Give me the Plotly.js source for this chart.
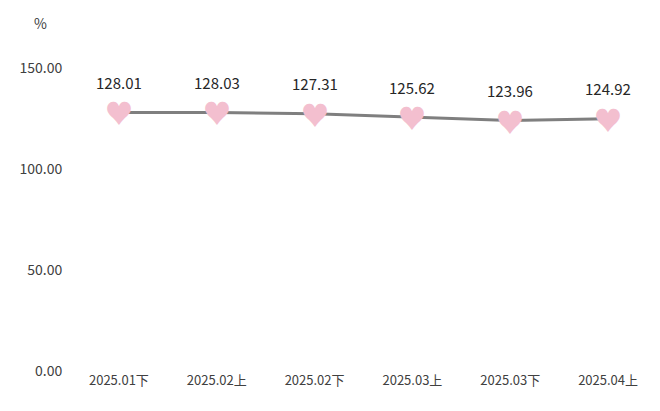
<!DOCTYPE html>
<html><head><meta charset="utf-8">
<script src="https://cdn.plot.ly/plotly-3.0.1.min.js"></script>
<style>html,body{margin:0;padding:0;background:#fff}#c{width:660px;height:411px}</style>
</head><body><div id="c"></div>
<script>
const categories = ['2025.01下','2025.02上','2025.02下','2025.03上','2025.03下','2025.04上'];
const values = [128.01, 128.03, 127.31, 125.62, 123.96, 124.92];
const yTicks = [0, 50, 100, 150];
const yTickLabels = ['0.00','50.00','100.00','150.00'];

const font = "'Noto Sans CJK SC', 'Noto Sans', sans-serif";
const traces = [
  {x: categories, y: values, type: 'scatter', mode: 'lines', line: {color: '#7f7f7f', width: 3}, hoverinfo: 'skip', cliponaxis: false}
];
const heartAnns = categories.map((c, i) => ({x: c, y: values[i], xref: 'x', yref: 'y', text: '♥', showarrow: false,
  font: {family: "'Noto Sans CJK SC'", size: 28, color: '#f3bfcf'}, xanchor: 'center', yanchor: 'middle', yshift: 0}));
const labelAnns = categories.map((c, i) => ({x: c, y: values[i], xref: 'x', yref: 'y', text: values[i].toFixed(2), showarrow: false,
  font: {family: font, size: 15, color: '#262626'}, xanchor: 'center', yanchor: 'middle', yshift: 30}));
const layout = {
  width: 660, height: 411,
  margin: {l: 70, r: 3, t: 68, b: 40},
  paper_bgcolor: '#fff', plot_bgcolor: '#fff',
  showlegend: false,
  font: {family: font, size: 13, color: '#404040'},
  xaxis: {type: 'category', range: [-0.5, 5.5], showgrid: false, zeroline: false, showline: false,
          ticks: '', tickfont: {size: 13, color: '#404040'}, fixedrange: true},
  yaxis: {range: [0, 150], tickvals: yTicks, ticktext: yTickLabels, showgrid: false, zeroline: false,
          showline: false, ticks: 'outside', ticklen: 4, tickcolor: 'rgba(0,0,0,0)',
          tickfont: {size: 14, color: '#404040'}, fixedrange: true},
  annotations: [{xref: 'paper', yref: 'paper', x: -0.05, y: 1.15, text: '%', showarrow: false,
                 font: {size: 14, color: '#404040'}, xanchor: 'center', yanchor: 'middle'}]
    .concat(heartAnns, labelAnns)
};
Plotly.newPlot('c', traces, layout, {displayModeBar: false, staticPlot: true});
</script></body></html>
